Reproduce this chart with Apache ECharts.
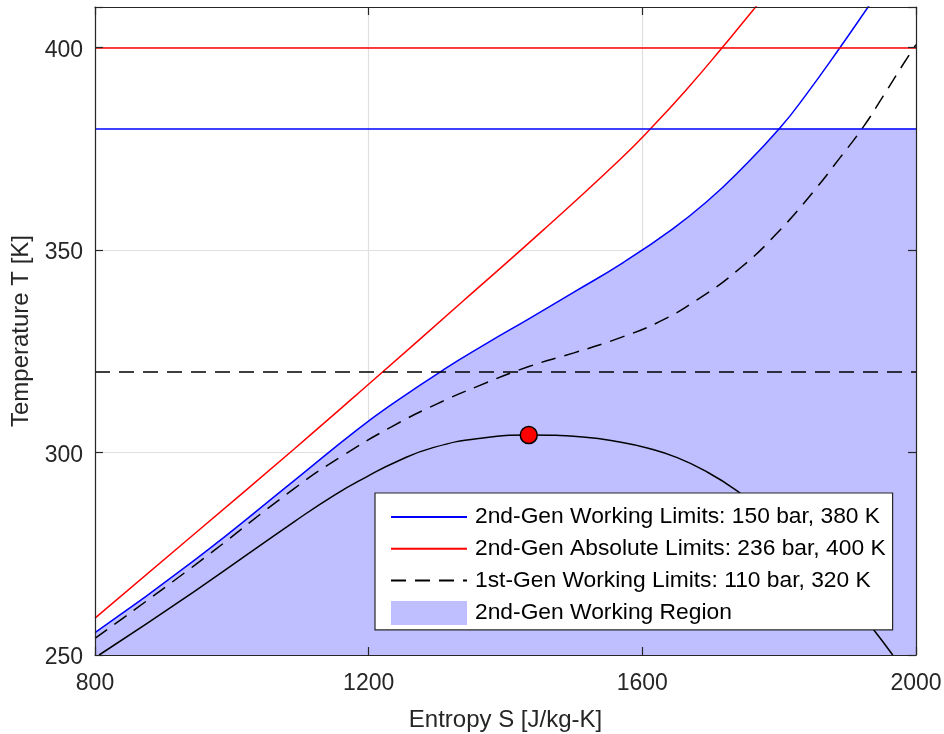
<!DOCTYPE html>
<html>
<head>
<meta charset="utf-8">
<script src="https://cdn.jsdelivr.net/npm/echarts@6/dist/echarts.min.js"></script>
<style>html,body{margin:0;padding:0;background:#fff}#c{width:944px;height:734px}</style>
</head>
<body>
<div id="c"></div>
<script>
// ---- data (entropy S [J/kg-K], temperature T [K]) ----
// 236 bar isobar (2nd-gen absolute limit)
const redS  = [800, 946, 1092, 1207, 1338, 1455, 1567, 1614, 1665, 1716, 1765, 1790];
const redT  = [259.1, 280.0, 301.0, 317.9, 337.4, 354.9, 372.3, 380.3, 389.7, 399.8, 409.9, 415];
// 150 bar isobar (2nd-gen working limit)
const blueS = [800, 946, 1092, 1183, 1239, 1309, 1370, 1436, 1500, 1572, 1645, 1694, 1743, 1801, 1840, 1889, 1930, 1945];
const blueT = [255.5, 273.5, 293.2, 305.6, 312.5, 320.4, 326.7, 333.2, 339.6, 346.9, 355.3, 361.9, 369.7, 380.1, 388.5, 400.0, 410, 413.7];
// 110 bar isobar (1st-gen working limit)
const dashS = [800, 946, 1092, 1160, 1234, 1300, 1360, 1432, 1500, 1567, 1625, 1680, 1745, 1801, 1850, 1889, 1923, 1952, 1981, 2000];
const dashT = [254.1, 272.2, 291.2, 299.0, 306.4, 312.0, 316.4, 321.1, 324.6, 328.3, 332.3, 337.7, 345.8, 354.9, 364.4, 372.8, 380.4, 388.0, 395.8, 400.7];
// saturation dome
const domeS = [806, 946, 1092, 1150, 1197, 1239, 1294, 1367, 1434, 1513, 1567, 1610, 1650, 1689, 1738, 1790, 1840, 1890, 1937, 1966];
const domeT = [250, 265.8, 283.0, 289.5, 294.0, 297.6, 301.2, 303.6, 304.3, 303.8, 302.6, 301.0, 298.8, 295.7, 290.6, 283.6, 275.6, 266.4, 256.5, 250];
// critical point
const critS = [1434];
const critT = [304.3];
// temperature limits
const limitT = { blue: 380, red: 400, dash: 320 };
const xTicks = [800, 1200, 1600, 2000];
const yTicks = [250, 300, 350, 400];
const names = [
  '2nd-Gen Working Limits: 150 bar, 380 K',
  '2nd-Gen Absolute Limits: 236 bar, 400 K',
  '1st-Gen Working Limits: 110 bar, 320 K',
  '2nd-Gen Working Region'
];

const zip = (a, b) => a.map((v, i) => [v, b[i]]);
const xMin = 800, xMax = 2000, xInt = 400, yMin = 250, yMax = 410, yInt = 50;
// fill region: below the 150 bar curve, capped at the 380 K limit (cap applied via gradient stop)
const fillData = zip(blueS, blueT);
fillData.push([xMax, blueT[blueT.length - 1]]);

const FONT = 'Liberation Sans, Arial, Helvetica, sans-serif';
const TXT = '#262626';
const SMOOTH = 0.5;
const FILL = '#bfbfff';

function frameAxis(pos, labels, extra) {
  return Object.assign({
    type: 'value', position: pos, z: 10,
    axisLine: { show: true, onZero: false, lineStyle: { color: TXT, width: 1.2 } },
    axisTick: { show: true, inside: true, length: 8, lineStyle: { color: TXT, width: 1.2 } },
    axisLabel: { show: labels },
    splitLine: { show: false }
  }, extra);
}
function gridAxis(pos, extra) {
  return Object.assign({
    type: 'value', position: pos, z: 0,
    axisLine: { show: false }, axisTick: { show: false }, axisLabel: { show: false },
    splitLine: { show: true, lineStyle: { color: '#e0e0e0', width: 1.2 } }
  }, extra);
}
const xr = { min: xMin, max: xMax, interval: xInt };
const yr = { min: yMin, max: yMax, interval: yInt };

const markLineOf = (t, color, type) => ({
  silent: true, symbol: ['none', 'none'], label: { show: false },
  lineStyle: { color: color, width: 1.5, type: type }, emphasis: { disabled: true },
  data: [{ yAxis: t }]
});
const hideSym = { color: 'rgba(0,0,0,0)', borderColor: 'rgba(0,0,0,0)', borderWidth: 0 };

const chart = echarts.init(document.getElementById('c'), null, { renderer: 'canvas' });
chart.setOption({
  animation: false,
  textStyle: { fontFamily: FONT },
  grid: { left: 95, right: 28, top: 7, bottom: 79, containLabel: false, outerBoundsMode: 'none' },
  xAxis: [
    frameAxis('bottom', true, Object.assign({
      name: 'Entropy S [J/kg-K]', nameLocation: 'middle', nameGap: 53,
      nameTextStyle: { fontSize: 24, color: TXT, fontFamily: FONT },
      axisLabel: { show: true, fontSize: 23, color: TXT, margin: 17, fontFamily: FONT,
        formatter: v => (xTicks.indexOf(v) >= 0 ? String(v) : '') }
    }, xr)),
    frameAxis('top', false, Object.assign({}, xr)),
    gridAxis('bottom', Object.assign({}, xr))
  ],
  yAxis: [
    frameAxis('left', true, Object.assign({
      name: 'Temperature T [K]', nameLocation: 'middle', nameGap: 58,
      nameTextStyle: { fontSize: 24, color: TXT, fontFamily: FONT },
      axisLabel: { show: true, fontSize: 23, color: TXT, margin: 12, fontFamily: FONT,
        verticalAlign: 'top', lineHeight: 6,
        formatter: v => (yTicks.indexOf(v) >= 0 ? String(v) : '') }
    }, yr)),
    frameAxis('right', false, Object.assign({}, yr)),
    gridAxis('left', Object.assign({}, yr))
  ],
  legend: {
    left: 375, top: 493, orient: 'vertical',
    padding: [12.5, 7, 5, 15],
    itemWidth: 76, itemHeight: 24, itemGap: 8.8,
    backgroundColor: '#fff', borderColor: TXT, borderWidth: 1.2,
    selectedMode: false,
    textStyle: { fontSize: 22.8, color: '#000', fontFamily: FONT, padding: [0, 0, 0, 3] },
    data: [
      { name: names[0], itemStyle: hideSym },
      { name: names[1], itemStyle: hideSym },
      { name: names[2], itemStyle: hideSym },
      { name: names[3], icon: 'rect', itemStyle: { color: FILL } }
    ]
  },
  series: [
    {
      id: 'fill', name: names[3], type: 'line', z: 1, data: fillData, symbol: 'none',
      color: FILL,
      lineStyle: { width: 0, opacity: 0 },
      areaStyle: { color: FILL, opacity: 1, origin: 'start' },
      smooth: SMOOTH, silent: true
    },
    {
      name: 'dome', type: 'line', z: 3, data: zip(domeS, domeT), symbol: 'none',
      lineStyle: { color: '#000', width: 1.5 }, color: '#000',
      smooth: SMOOTH, silent: true
    },
    {
      name: names[2], type: 'line', z: 3, data: zip(dashS, dashT), symbol: 'none',
      color: '#000',
      lineStyle: { color: '#000', width: 1.5, type: [15, 9] },
      smooth: SMOOTH, silent: true,
      markLine: markLineOf(limitT.dash, '#000', [15, 9])
    },
    {
      name: names[0], type: 'line', z: 4, data: zip(blueS, blueT), symbol: 'none',
      color: '#0000ff',
      lineStyle: { color: '#0000ff', width: 1.5 },
      smooth: SMOOTH, silent: true,
      markLine: markLineOf(limitT.blue, '#0000ff', 'solid')
    },
    {
      name: names[1], type: 'line', z: 4, data: zip(redS, redT), symbol: 'none',
      color: '#ff0000',
      lineStyle: { color: '#ff0000', width: 1.5 },
      smooth: SMOOTH, silent: true,
      markLine: markLineOf(limitT.red, '#ff0000', 'solid')
    },
    {
      name: 'critical', type: 'scatter', z: 6, data: zip(critS, critT),
      symbol: 'circle', symbolSize: 17,
      itemStyle: { color: '#ff0000', borderColor: '#000', borderWidth: 1.5, opacity: 1 },
      silent: true
    }
  ]
});

// cap the fill at the 380 K limit: gradient switches from transparent to fill at that pixel row
const capY = chart.convertToPixel({ yAxisIndex: 0 }, limitT.blue);
chart.setOption({
  series: [{
    id: 'fill',
    areaStyle: {
      color: {
        type: 'linear', global: true, x: 0, y: capY - 0.5, x2: 0, y2: capY + 0.5,
        colorStops: [
          { offset: 0, color: 'rgba(191,191,255,0)' },
          { offset: 1, color: FILL }
        ]
      }
    }
  }]
});
</script>
</body>
</html>
